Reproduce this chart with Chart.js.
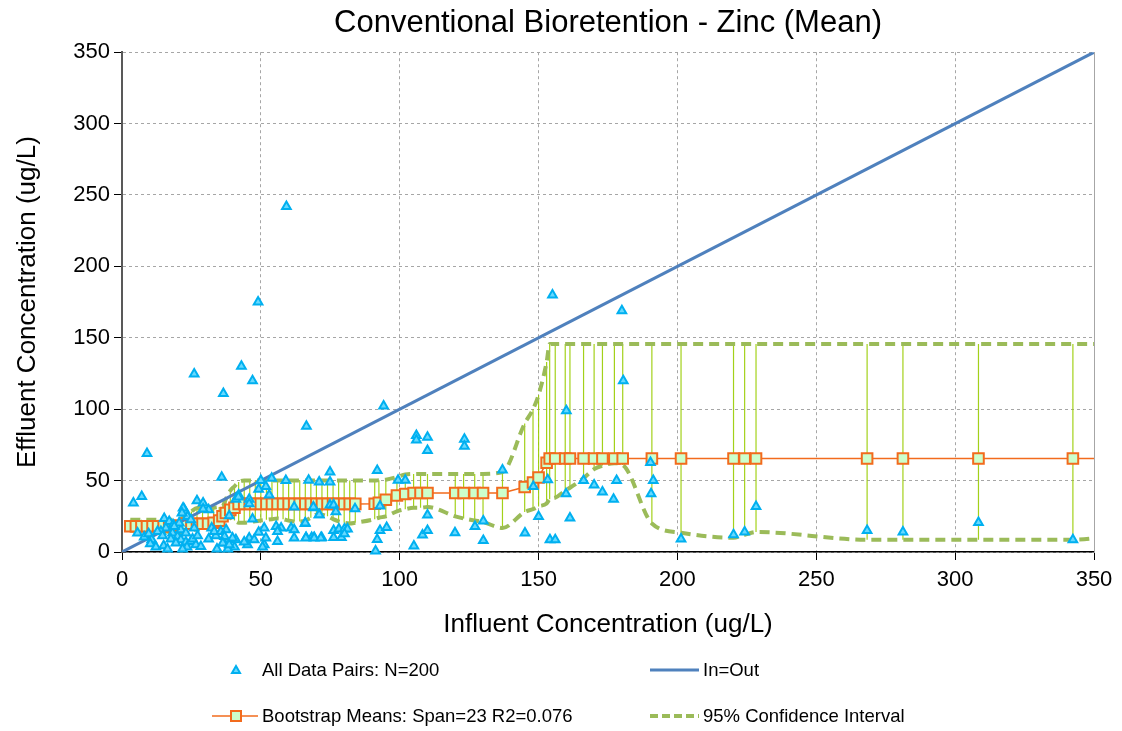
<!DOCTYPE html>
<html>
<head>
<meta charset="utf-8">
<script src="https://cdn.jsdelivr.net/npm/chart.js@4.4.1/dist/chart.umd.min.js"></script>
<style>
body{margin:0;background:#fff;}
#wrap{position:relative;width:1122px;height:731px;}
#legend{position:absolute;left:0;top:0;width:1122px;height:731px;pointer-events:none;
  font-family:Arial,"Liberation Sans",sans-serif;font-size:18.5px;color:#000;}
.item{position:absolute;display:flex;align-items:center;height:20px;}
.item svg{margin-right:4px;}
</style>
</head>
<body>
<div id="wrap">
  <canvas id="zincCanvas" width="1122" height="731"></canvas>
  <div id="legend">
    <div class="item" style="left:190px;top:660px;">
      <svg width="68" height="20"><polygon points="46,6 50,13 42,13" fill="#66d9ff" stroke="#00b0f0" stroke-width="2"/></svg>
      <span id="lg0"></span>
    </div>
    <div class="item" style="left:600px;top:660px;">
      <svg width="99" height="20"><line x1="50" y1="10" x2="99" y2="10" stroke="#4f81bd" stroke-width="3"/></svg>
      <span id="lg1"></span>
    </div>
    <div class="item" style="left:190px;top:706px;">
      <svg width="68" height="20"><line x1="22" y1="10" x2="68" y2="10" stroke="#f26b1d" stroke-width="1.5"/><rect x="41" y="5" width="10" height="10" fill="#ccffcc" stroke="#f26b1d" stroke-width="2"/></svg>
      <span id="lg2"></span>
    </div>
    <div class="item" style="left:600px;top:706px;">
      <svg width="99" height="20"><line x1="50" y1="10" x2="99" y2="10" stroke="#9bbb59" stroke-width="4" stroke-dasharray="8,4"/></svg>
      <span id="lg3"></span>
    </div>
  </div>
</div>
<script>
const zincCanvas = document.getElementById("zincCanvas");

// all data pairs [influent, effluent]
var pairs = [
  [59.2,242],[49,175],[26,124.6],[43,130],[47,120],[36.5,111],[66.4,88],[94.2,102.3],[155,180],[180,169],
  [180.5,120],[160,99],[9,69],[106,81.5],[106,78.5],[110,80.4],[110,71],[123.3,79],[123.3,74],
  [74.9,56],[91.9,57],[67.2,50.3],[71,49],[74.9,49],[99.4,50.3],[102,50.3],
  [69,31],[74.9,32.9],[76.2,32.9],[77,28.2],[71,26],[83.9,30.2],[92.9,32.3],[65.9,20],
  [66.3,10.2],[68.3,10.2],[69.2,10.2],[71.9,10.2],[76.2,10.2],[79,10.2],[76.2,15.1],[78.1,16.1],[80.1,16.1],
  [81.2,16.1],[80.1,12.8],[92.9,15.1],[95.3,17.2],[91.9,8.8],[91.3,0.7],[105.1,4.2],
  [110,25.9],[108.2,11.9],[110,15.1],[119.9,13.5],[130.1,8.1],[127.1,17.9],[130.1,21.7],
  [137,57.5],[145.1,13.3],[148.1,45.9],[150,24.9],[153.3,50.6],[154.1,8.6],[156,8.6],
  [159.9,40.8],[161.3,23.8],[166.2,50],[170,47],[173,42],[177,37],[178.1,50],[190.3,62.7],[191.3,50],
  [190.5,40.8],[201.3,9.1],[220.2,12.1],[224.2,14],[228.3,31.9],[268.3,15.1],[281.2,14],[308.4,20.7],[342.4,8.6],
  [4.1,34.3],[7.1,38.9],[35.9,52.4],[27,35.9],[29.2,34.3],[31.2,29.6],[29.2,30.1],[22.4,30],[23,27.3],[23.6,24.9],
  [15.2,23.5],[17,21.4],[18.4,19.1],[15.8,16.8],[14,14.4],[5.6,13.3],[8,10.5],[9.6,12.8],[12.8,14.4],[14.6,11.4],
  [10.7,8.6],[10.2,5.8],[12.2,3.5],[15,4.4],[16.4,2.1],[18.2,13.3],[20,10.9],[21.2,8.6],[23,7],[24.8,7.4],
  [26.6,5.1],[28.4,3.9],[23.4,3.5],[21.8,2.1],[25.4,9.1],[27.2,11.4],[31.2,9.1],[33.8,11.4],[34.2,2.1],[17.6,9.1],
  [19.4,6.3],[21.2,15.6],[23,13.3],[26,16.8],[32.3,16.8],[33.2,14.4],[35.6,14.4],[36.8,6.3],[24.8,22.6],[20.6,20.3],
  [18.8,17.9],[53.9,51.7],[59,50],[50,50],[51.8,45.9],[49.2,44],[53,40],[42,40],[41,37],[45.8,37],
  [45.8,33.8],[47,23.1],[38.6,25.4],[62,31.5],[68.9,31.5],[71,26.1],[66,20.3],[60.9,16.8],[57.3,16.8],[55.5,17.9],
  [56,14.4],[62,15.6],[62,9.8],[66.2,9.8],[69.2,9.8],[71.6,9.8],[45.8,9.8],[47.6,8.6],[45.2,5.1],[51.2,16.8],
  [51.2,5.1],[49.2,13.8],[51.8,9.8],[56,7.4],[41,8.6],[40.5,3.5],[38.1,2.1],[37.5,15.6],[36.9,10.9],[36.3,6.3],
  [39.8,9.8],[38.6,5.1],[44,7],[50.6,3.5],[41.9,38.5],[22,30.8],[21.6,27.3]
];

// bootstrap means with 95% confidence bounds
var bootX    = [3,5,7,9,11,13,15,17,19,21,23,25,27,29,31,33,35,36.2,37.4,39,40.5,
                42,44,46,48,50,52,54,56,58,60,62,64,66,68,70,72,74,76,78,80,82,84,
                91,92.5,95,99,102,105,107.5,110,120,123,127,130,137,145,148,150,152.9,
                154,156,159.6,161.3,166.2,170,173,177.3,180.3,190.8,201.3,220.2,224.2,228.3,
                268.3,281.2,308.4,342.4,356];
var bootMean = [18,18,18,18,18,18,18,18,18,18.5,19.8,19.8,19.8,19.8,19.8,20.5,22,25,27.3,29.5,31,
                33.7,33.7,33.7,33.7,33.7,33.7,33.7,33.7,33.7,33.7,33.7,33.7,33.7,33.7,33.7,33.7,33.7,33.7,33.7,33.7,33.7,33.7,
                33.8,34.5,36.6,39.6,40.6,41.3,41.3,41.3,41.3,41.3,41.3,41.3,41.3,45.5,48.7,52.2,62.5,
                65.5,65.5,65.5,65.5,65.5,65.5,65.5,65.5,65.5,65.5,65.5,65.5,65.5,65.5,
                65.5,65.5,65.5,65.5,65.5];
var ciLow    = [15,15,15,15,15,15,14.5,14,14,14,14,15,16,17.5,19,21,23,25,25,24,22,
                20.5,20.5,21,21.5,22,22.5,23,23.5,23,22,21.4,21.4,22,24,26,26,25,23,21.5,20.5,20,20.5,
                23,24,25,28.5,30,31,31,31.5,25,23.5,22,21,16.8,28,30,31.9,34,
                37,38,43,45,51.7,58,60.5,62.2,61,20,13.5,10,12,14,
                8.6,8.6,8.6,8.6,11];
var ciHigh   = [22.6,22.6,22.6,22.6,22.6,22.6,22.6,22.6,22.6,23,25,28.4,30.8,30.8,30.8,31,31.5,32,37,43,46,
                49,50,50,50,50,50,50,50,50,50,50,50,50,50,50,50,50,50,50,50,50,50,
                50,50.3,50.6,52.5,54.3,54.7,54.7,54.7,54.7,54.7,54.7,54.7,56,90,100,110,133,
                145.7,145.7,145.7,145.7,145.7,145.7,145.7,145.7,145.7,145.7,145.7,145.7,145.7,145.7,
                145.7,145.7,145.7,145.7,145.7];

var inOutX = [0, 350];
var axisTicks = [0, 50, 100, 150, 200, 250, 300, 350];

var labels = [
  "All Data Pairs: N=200",
  "In=Out",
  "Bootstrap Means: Span=23 R2=0.076",
  "95% Confidence Interval"
];

var pairPoints = pairs.map(p => ({x: p[0], y: p[1]}));
var meanPoints = bootX.map((x, i) => ({x: x, y: bootMean[i]}));
var lowPoints = bootX.map((x, i) => ({x: x, y: ciLow[i]}));
var highPoints = bootX.map((x, i) => ({x: x, y: ciHigh[i]}));
var errBars = [];
for (let i = 0; i < bootX.length; i++) {
  errBars.push({x: bootX[i], y: ciLow[i]}, {x: bootX[i], y: ciHigh[i]}, {x: bootX[i], y: null});
}

for (let i = 0; i < labels.length; i++) {
  document.getElementById("lg" + i).textContent = labels[i];
}

var fontName = 'Arial, "Liberation Sans", sans-serif';

function axisOpts(titleText, fit, tickPad) {
  return {
    type: "linear",
    min: 0,
    max: 350,
    afterBuildTicks: s => { s.ticks = axisTicks.map(v => ({value: v})); },
    afterFit: fit,
    ticks: {font: {family: fontName, size: 22}, color: "#000", padding: tickPad},
    grid: {color: "#a6a6a6", lineWidth: 1, tickColor: "#000", tickLength: 8},
    border: {color: "#000", width: 1.5, dash: [3, 3]},
    title: {display: true, text: titleText, color: "#000",
            font: {family: fontName, size: 26}, padding: {top: 12, bottom: 12}}
  };
}

new Chart(zincCanvas, {
  type: "scatter",
  data: {
    datasets: [
      {
        label: labels[0],
        data: pairPoints,
        pointStyle: "triangle",
        pointRadius: 5,
        borderWidth: 2,
        borderColor: "#00b0f0",
        backgroundColor: "#66d9ff",
        clip: false,
        order: 1
      },
      {
        label: labels[1],
        data: inOutX.map(v => ({x: v, y: v})),
        showLine: true,
        borderColor: "#4f81bd",
        borderWidth: 3,
        pointRadius: 0,
        order: 2
      },
      {
        label: labels[2],
        data: meanPoints,
        showLine: true,
        borderColor: "#f26b1d",
        borderWidth: 1.5,
        pointStyle: "rect",
        pointRadius: 7.5,
        pointBorderWidth: 2,
        pointBorderColor: "#f26b1d",
        pointBackgroundColor: "#ccffcc",
        order: 3
      },
      {
        label: labels[3],
        data: highPoints,
        showLine: true,
        borderColor: "#9bbb59",
        borderWidth: 4,
        borderDash: [10, 6],
        pointRadius: 0,
        cubicInterpolationMode: "monotone",
        order: 4
      },
      {
        label: "lower",
        data: lowPoints,
        showLine: true,
        borderColor: "#9bbb59",
        borderWidth: 4,
        borderDash: [10, 6],
        pointRadius: 0,
        cubicInterpolationMode: "monotone",
        order: 4
      },
      {
        label: "bars",
        data: errBars,
        showLine: true,
        spanGaps: false,
        borderColor: "rgba(153,204,0,0.9)",
        borderWidth: 1.2,
        pointRadius: 0,
        order: 5
      }
    ]
  },
  options: {
    responsive: false,
    animation: false,
    layout: {padding: {left: 0, right: 28, top: 0, bottom: 79}},
    plugins: {
      legend: {display: false},
      tooltip: {enabled: false},
      title: {
        display: true,
        fullSize: false,
        text: "Conventional Bioretention - Zinc (Mean)",
        color: "#000",
        font: {family: fontName, size: 31, weight: "normal"},
        padding: {top: 5, bottom: 10}
      }
    },
    scales: {
      x: axisOpts("Influent Concentration (ug/L)", s => { s.height = 100; }, 7),
      y: Object.assign(axisOpts("Effluent Concentration (ug/L)", s => { s.width = 122; }, 4),
                       {border: {color: "#595959", width: 2, dash: [3, 3]}}),
      y2: {
        type: "linear", position: "right", min: 0, max: 350,
        afterFit: s => { s.width = 0; },
        ticks: {display: false},
        grid: {display: false},
        border: {color: "#a6a6a6", width: 1}
      }
    }
  }
});
</script>
</body>
</html>
